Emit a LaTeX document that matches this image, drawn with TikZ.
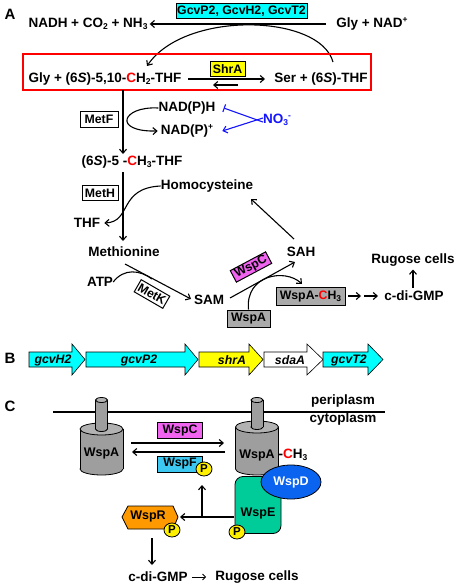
\documentclass[tikz,border=0pt]{standalone}
\usepackage{fontspec}
\setmainfont{Liberation Sans}
\usetikzlibrary{arrows.meta,calc,shapes.geometric}
\definecolor{cyanc}{RGB}{0,255,255}
\definecolor{yel}{RGB}{255,255,0}
\definecolor{mag}{RGB}{240,100,240}
\definecolor{grayb}{RGB}{170,170,170}
\definecolor{wspf}{RGB}{60,200,240}
\definecolor{wspe}{RGB}{0,204,153}
\definecolor{wspd}{RGB}{10,100,240}
\definecolor{orng}{RGB}{255,153,0}
\definecolor{pyel}{RGB}{255,240,0}
\definecolor{cylgray}{RGB}{158,158,158}
\definecolor{cyltop}{RGB}{178,178,178}
\definecolor{noblue}{RGB}{20,20,255}
\newcommand\mydn[1]{\raisebox{-0.35ex}{\fontsize{8.5}{9}\selectfont #1}}
\newcommand\myup[1]{\raisebox{0.65ex}{\fontsize{8.5}{9}\selectfont #1}}
\newcommand\rC{\textcolor{red}{C}}
\newcommand\mycyl[5]{%
  \draw[line width=0.8pt, fill=cylgray] (#1,#3) ellipse [x radius=#4, y radius=#5];
  \fill[cylgray] (#1-#4,#2) rectangle (#1+#4,#3);
  \draw[line width=0.8pt] (#1-#4,#2) -- (#1-#4,#3) (#1+#4,#2) -- (#1+#4,#3);
  \draw[line width=0.8pt, fill=cyltop] (#1,#2) ellipse [x radius=#4, y radius=#5];}
\newcommand\mygene[4]{%
  \draw[line width=0.6pt, fill=#4] (#1,352) -- (#2,352) -- (#2,344) -- (#3,359.5) -- (#2,375) -- (#2,367) -- (#1,367) -- cycle;}
\begin{document}
\begin{tikzpicture}[x=1pt,y=-1pt,
  txt/.style={font=\fontsize{13.5}{15}\selectfont\bfseries, inner sep=0pt},
  lbl/.style={font=\fontsize{15}{16}\selectfont\bfseries, inner sep=0pt},
  bx/.style={draw, line width=1pt, font=\fontsize{12.3}{13}\selectfont\bfseries, inner sep=0pt},
  ctxt/.style={font=\fontsize{12.5}{13}\selectfont\bfseries, inner sep=0pt},
  gtxt/.style={font=\fontsize{12.3}{13}\selectfont\bfseries\itshape, inner sep=0pt},
  arr/.style={-{Straight Barb[length=4pt,width=7pt]}, line width=1.1pt},
  pc/.style={ellipse, draw, line width=0.8pt, fill=pyel, minimum width=16, minimum height=14, inner sep=0pt, font=\fontsize{11.5}{12}\selectfont\bfseries}]
\useasboundingbox (0,0) rectangle (459,586);
% ---------- Panel A ----------
\node[lbl] (A) at (10,14) {A};
\node[bx, fill=cyanc, minimum width=131, minimum height=15] (gcv) at (241.5,11.5) {GcvP2, GcvH2, GcvT2};
\node[txt] (nadh) at (88,24) {NADH + CO\mydn{2} + NH\mydn{3}};
\node[txt] (glynad) at (372,24) {Gly + NAD\myup{+}};
\draw[arr, shorten <=10pt, shorten >=2pt] (glynad.west) -- (nadh.east);
\coordinate (c1s) at (333,62);
\coordinate (c1e) at (147,66);
\draw[arr] (c1s) .. controls (320,14) and (185,10) .. (c1e);
\node[draw=red, line width=1.3pt, minimum width=348, minimum height=36, inner sep=0pt] (redbox) at (197,72) {};
\node[txt] (gly) at (105,79) {Gly + (6\textit{S})-5,10-\rC H\mydn{2}-THF};
\node[bx, fill=yel, minimum width=35, minimum height=14] (shra) at (227.5,69) {ShrA};
\node[txt] (ser) at (321,79) {Ser + (6\textit{S})-THF};
\coordinate (f1) at (188,79); \coordinate (f2) at (265,79);
\draw[arr] (f1) -- (f2);
\coordinate (r1) at (238,85); \coordinate (r2) at (213,85);
\draw[arr] (r1) -- (r2);
% MetF step
\coordinate (v1) at (123,90); \coordinate (v1e) at (123,154);
\draw[arr] (v1) -- (v1e);
\node[bx, fill=white, minimum width=38, minimum height=16] (metf) at (99,119) {MetF};
\node[txt] (nadph) at (187,108) {NAD(P)H};
\node[txt] (nadp) at (187,131) {NAD(P)\myup{+}};
\draw[arr] (nadph.west) .. controls (122,106) and (112,132) .. ([xshift=-3pt]nadp.west);
\node[txt, text=noblue] (no3) at (277,120) {NO\mydn{3}\myup{-}};
\draw[noblue, line width=1.1pt, -{Bar[width=8pt]}] ([yshift=-2pt]no3.west) -- ([xshift=8pt]nadph.east);
\draw[noblue, arr] ([yshift=2pt]no3.west) -- ([xshift=9pt]nadp.east);
\node[txt] (ch3thf) at (132,162) {(6\textit{S})-5 -\rC H\mydn{3}-THF};
% MetH step
\coordinate (v2) at (123,172); \coordinate (v2e) at (123,241);
\draw[arr] (v2) -- (v2e);
\node[bx, fill=white, minimum width=36, minimum height=15] (meth) at (100,193) {MetH};
\node[txt] (homo) at (207,186) {Homocysteine};
\node[txt] (thf) at (87,223) {THF};
\draw[arr] (homo.west) .. controls (118,188) and (132,222) .. ([xshift=4pt]thf.east);
\node[txt] (met) at (124,252) {Methionine};
\node[txt] (atp) at (100,282) {ATP};
\node[txt] (sam) at (209,300) {SAM};
\coordinate (m1) at (125,264); \coordinate (m2) at (191,299);
\draw[arr] (m1) -- (m2);
\draw[line width=1.1pt] (atp.east) .. controls (124,268) and (140,270) .. (152,279);
\node[bx, fill=white, minimum width=33, minimum height=14, rotate=-30] (metk) at (152,294) {MetK};
\node[txt] (sah) at (301,252) {SAH};
\coordinate (s1) at (230,298); \coordinate (s2) at (295,262);
\draw[arr] (s1) -- (s2);
\node[bx, fill=mag, minimum width=40, minimum height=13, rotate=28] (wspcA) at (251,267) {WspC};
\coordinate (h1) at (294,239); \coordinate (h2) at (251,199);
\draw[arr] (h1) -- (h2);
\node[bx, fill=grayb, minimum width=43, minimum height=17] (wspaA) at (248.5,318.5) {WspA};
\node[bx, fill=grayb, minimum width=69, minimum height=18] (wspach3) at (310.5,296) {WspA-\rC H\mydn{3}};
\draw[arr] (wspaA.north) .. controls (245,275) and (285,268) .. (302,284);
\node[txt] (cdg) at (414,296) {c-di-GMP};
\node[txt] (rug) at (413,260) {Rugose cells};
\coordinate (d1) at (348,296); \coordinate (d2) at (361,296);
\coordinate (d3) at (364,296); \coordinate (d4) at (378,296);
\draw[arr] (d1) -- (d2);
\draw[arr] (d3) -- (d4);
\draw[arr, shorten <=3pt, shorten >=3pt] (cdg.north -| rug) -- (rug.south);
% ---------- Panel B ----------
\node[lbl] (B) at (10,358) {B};
\mygene{29}{72}{85}{cyanc}
\mygene{86}{185}{198}{cyanc}
\mygene{199}{249}{263}{yel}
\mygene{264}{307}{323}{white}
\mygene{323}{368}{383}{cyanc}
\node[gtxt] (g1) at (53,360) {gcvH2};
\node[gtxt] (g2) at (139,360) {gcvP2};
\node[gtxt] (g3) at (232,360) {shrA};
\node[gtxt] (g4) at (290,360) {sdaA};
\node[gtxt] (g5) at (349,360) {gcvT2};
% ---------- Panel C ----------
\node[lbl] (C) at (10,406) {C};
\coordinate (mem1) at (53,412); \coordinate (mem2) at (385,412);
\draw[line width=1.1pt] (mem1) -- (mem2);
\node[txt] (peri) at (343,401) {periplasm};
\node[txt] (cyto) at (343,419) {cytoplasm};
% left cylinder
\mycyl{101.5}{429}{469}{21.5}{6}
\mycyl{101.5}{400}{429}{6}{2.5}
\node[ctxt] (wspaL) at (101.5,453) {WspA};
% WspE (behind right cylinder)
\node[draw, line width=0.8pt, fill=wspe, rounded corners=8pt, minimum width=46, minimum height=57, inner sep=0pt] (wspe) at (258,505) {};
\node[ctxt] (wspet) at (258,513) {WspE};
% right cylinder
\mycyl{257}{427}{469}{21.5}{6}
\mycyl{257}{400}{427}{6}{2.5}
\node[ctxt] (wspaR) at (257,455) {WspA};
\node[txt] (ch3r) at (293,455) {-\rC H\mydn{3}};
\node[ellipse, draw, line width=0.8pt, fill=wspd, text=white, minimum width=60, minimum height=34, inner sep=0pt, font=\fontsize{12.5}{13}\selectfont\bfseries] (wspd) at (291,482) {WspD};
\node[pc] (p2) at (237,532) {P};
% WspC / WspF
\node[bx, fill=mag, minimum width=45, minimum height=16] (wspcC) at (180,430) {WspC};
\coordinate (a1) at (131,443); \coordinate (a2) at (224,443);
\draw[arr] (a1) -- (a2);
\coordinate (a3) at (225,452); \coordinate (a4) at (132,452);
\draw[arr] (a3) -- (a4);
\node[bx, fill=wspf, minimum width=45, minimum height=16] (wspfC) at (180,464) {WspF\hspace{5pt}};
\node[pc] (p1) at (204,469) {P};
% WspR
\draw[line width=0.8pt, fill=orng] (122,517) -- (128,506) -- (173,506) -- (178,517) -- (173,529) -- (128,529) -- cycle;
\node[ctxt] (wspr) at (148,516) {WspR};
\node[pc] (p3) at (172,530) {P};
\coordinate (e1) at (234,517); \coordinate (e2) at (180,517);
\draw[arr] (e1) -- (e2);
\coordinate (b1) at (202,517); \coordinate (b2) at (202,485);
\draw[arr] (b1) -- (b2);
\coordinate (r3) at (152,538); \coordinate (r4) at (152,565);
\draw[arr] (r3) -- (r4);
\node[txt] (cdgC) at (158,577) {c-di-GMP};
\node[txt] (rugC) at (257,577) {Rugose cells};
\draw[-{Straight Barb[length=3pt,width=6pt]}, line width=0.9pt, shorten <=4pt, shorten >=9pt] (cdgC.east) -- (rugC.west);
\end{tikzpicture}
\end{document}
